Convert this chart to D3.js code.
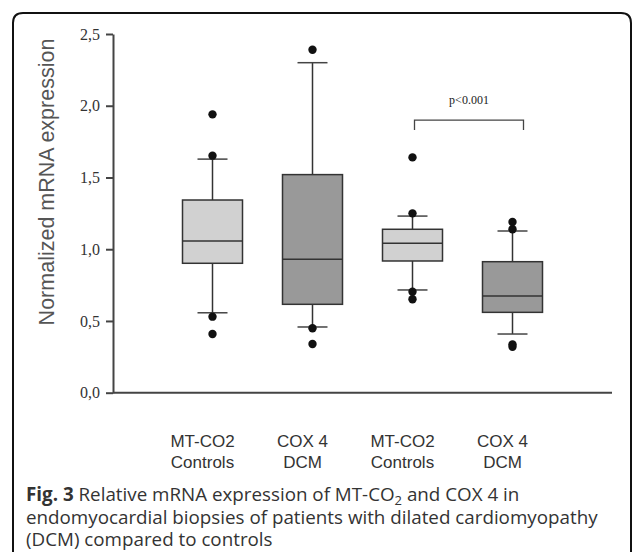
<!DOCTYPE html>
<html>
<head>
<meta charset="utf-8">
<script src="https://cdnjs.cloudflare.com/ajax/libs/d3/7.8.5/d3.min.js"></script>
<style>
  body { margin: 0; background: #fff; }
</style>
</head>
<body>
<script>
// Box plot summaries (normalized mRNA expression)
const groups = ["MT-CO2 Controls", "COX 4 DCM", "MT-CO2 Controls ", "COX 4 DCM "];
const labelTop = ["MT-CO2", "COX 4", "MT-CO2", "COX 4"];
const labelBottom = ["Controls", "DCM", "Controls", "DCM"];
const fills = ["#d1d1d1", "#999999", "#d1d1d1", "#999999"];
const whiskerLow = [0.557, 0.458, 0.716, 0.409];
const q1 = [0.902, 0.616, 0.918, 0.560];
const median = [1.057, 0.930, 1.041, 0.674];
const q3 = [1.343, 1.520, 1.139, 0.913];
const whiskerHigh = [1.628, 2.300, 1.231, 1.127];
const outliers = [
  [0.409, 0.530, 1.652, 1.940],
  [0.339, 0.449, 2.390],
  [0.651, 0.704, 1.250, 1.640],
  [0.320, 0.337, 1.139, 1.190]
];
const yTicks = [0, 0.5, 1.0, 1.5, 2.0, 2.5];

const width = 633, height = 552;

let svg = d3.select("body")
    .append("svg")
    .attr("width", width)
    .attr("height", height);

// rounded frame, open at the bottom
svg.append("path")
    .attr("d", "M13,552 L13,23 Q13,13 23,13 L621,13 Q631,13 631,23 L631,552")
    .attr("fill", "none")
    .attr("stroke", "#111")
    .attr("stroke-width", 2);

let x = d3.scaleBand()
    .domain(groups)
    .range([113, 612])
    .paddingInner(0.4)
    .paddingOuter(0.695);

let y = d3.scaleLinear()
    .domain([0, 2.5])
    .range([392.7, 34]);

// y axis
let yAxis = svg.append("g")
    .attr("transform", "translate(113,0)")
    .call(d3.axisLeft(y).tickValues(yTicks).tickSize(7).tickSizeOuter(0)
      .tickFormat(d => d3.format(".1f")(d).replace(".", ",")));
yAxis.select(".domain").attr("stroke", "#444").attr("stroke-width", 2);
yAxis.selectAll(".tick line").attr("stroke", "#444").attr("stroke-width", 2);
yAxis.selectAll(".tick text")
    .attr("x", -13)
    .attr("fill", "#333")
    .style("font-family", "'Liberation Serif', 'DejaVu Serif', serif")
    .style("font-size", "16px");

// x axis baseline
svg.append("line")
    .attr("x1", 113).attr("x2", 612)
    .attr("y1", y(0)).attr("y2", y(0))
    .attr("stroke", "#444")
    .attr("stroke-width", 2);

// y title
svg.append("text")
    .attr("transform", "translate(54,182) rotate(-90)")
    .attr("text-anchor", "middle")
    .attr("fill", "#555")
    .style("font-family", "'Liberation Sans', Arial, sans-serif")
    .style("font-size", "21.5px")
    .text("Normalized mRNA expression");

let idx = d3.range(groups.length);
let bw = x.bandwidth();

let box = svg.selectAll(".box")
    .data(idx)
    .enter()
      .append("g")
      .attr("class", "box")
      .attr("transform", i => "translate(" + (x(groups[i]) + bw / 2) + ",0)");

// whisker stems
box.append("line")
    .attr("x1", 0).attr("x2", 0)
    .attr("y1", i => y(whiskerLow[i]))
    .attr("y2", i => y(whiskerHigh[i]))
    .attr("stroke", "#333")
    .attr("stroke-width", 1.5);

// whisker caps
box.selectAll(".cap")
    .data(i => [whiskerLow[i], whiskerHigh[i]])
    .enter()
      .append("line")
      .attr("class", "cap")
      .attr("x1", -15).attr("x2", 15)
      .attr("y1", d => y(d)).attr("y2", d => y(d))
      .attr("stroke", "#444")
      .attr("stroke-width", 1.5);

box.append("rect")
    .attr("x", -bw / 2)
    .attr("width", bw)
    .attr("y", i => y(q3[i]))
    .attr("height", i => y(q1[i]) - y(q3[i]))
    .attr("fill", i => fills[i])
    .attr("stroke", "#333")
    .attr("stroke-width", 1.5);

box.append("line")
    .attr("x1", -bw / 2).attr("x2", bw / 2)
    .attr("y1", i => y(median[i])).attr("y2", i => y(median[i]))
    .attr("stroke", "#333")
    .attr("stroke-width", 1.5);

box.selectAll(".dot")
    .data(i => outliers[i])
    .enter()
      .append("circle")
      .attr("class", "dot")
      .attr("cx", 0)
      .attr("cy", d => y(d))
      .attr("r", 4.2)
      .attr("fill", "#111");

// group labels
let labels = svg.selectAll(".glabel")
    .data(idx)
    .enter()
      .append("text")
      .attr("class", "glabel")
      .attr("text-anchor", "middle")
      .attr("fill", "#333")
      .style("font-family", "'Liberation Sans', Arial, sans-serif")
      .style("font-size", "17px");
labels.append("tspan")
    .attr("x", i => x(groups[i]) + bw / 2 - 10)
    .attr("y", 447)
    .text(i => labelTop[i]);
labels.append("tspan")
    .attr("x", i => x(groups[i]) + bw / 2 - 10)
    .attr("y", 468)
    .text(i => labelBottom[i]);

// significance bracket between the last two groups
let bx1 = x(groups[2]) + bw / 2 + 2;
let bx2 = x(groups[3]) + bw / 2 + 11;
let by = y(1.90);
svg.append("path")
    .attr("d", "M" + bx1 + "," + (by + 10) + " V" + by + " H" + bx2 + " V" + (by + 10))
    .attr("fill", "none")
    .attr("stroke", "#444")
    .attr("stroke-width", 1.3);
svg.append("text")
    .attr("x", (bx1 + bx2) / 2)
    .attr("y", by - 16)
    .attr("text-anchor", "middle")
    .attr("fill", "#222")
    .style("font-family", "'Liberation Serif', serif")
    .style("font-size", "12px")
    .text("p<0.001");

// caption
let cap = svg.append("text")
    .attr("fill", "#333")
    .style("font-family", "'Open Sans', 'Noto Sans', sans-serif")
    .style("font-size", "18.8px");
let l1 = cap.append("tspan").attr("x", 26).attr("y", 501);
l1.append("tspan").style("font-weight", "bold").text("Fig. 3");
l1.append("tspan").text(" Relative mRNA expression of MT-CO");
l1.append("tspan").attr("dy", 4).style("font-size", "13px").text("2");
l1.append("tspan").attr("dy", -4).text(" and COX 4 in");
cap.append("tspan").attr("x", 26).attr("y", 524)
    .text("endomyocardial biopsies of patients with dilated cardiomyopathy");
cap.append("tspan").attr("x", 26).attr("y", 546)
    .text("(DCM) compared to controls");
</script>
</body>
</html>
